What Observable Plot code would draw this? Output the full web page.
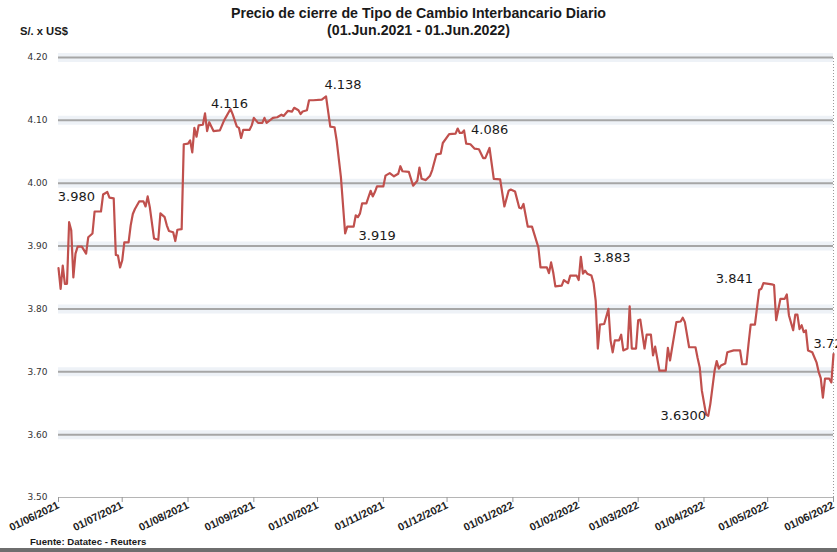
<!DOCTYPE html>
<html><head><meta charset="utf-8">
<script src="https://cdn.jsdelivr.net/npm/d3@7"></script>
<script src="https://cdn.jsdelivr.net/npm/@observablehq/plot@0.6"></script>
<style>
body{margin:0;background:#fff;}
#wrap{position:relative;width:837px;height:552px;overflow:hidden;background:#fff;}
#chart{position:absolute;left:0;top:0;}
.t{position:absolute;font-family:"Liberation Sans",Arial,sans-serif;font-weight:bold;color:#1a1a1a;white-space:nowrap;}
</style></head><body>
<div id="wrap">
<div id="chart"></div>
<div class="t" style="left:0;width:837px;text-align:center;top:5px;font-size:14.2px;line-height:17px;">Precio de cierre de Tipo de Cambio Interbancario Diario<br>(01.Jun.2021 - 01.Jun.2022)</div>
<div class="t" style="left:20px;top:24px;font-size:11.2px;line-height:14px;">S/. x US$</div>
<div class="t" style="left:30px;top:535px;font-size:9.6px;line-height:13px;">Fuente: Datatec - Reuters</div>
<div style="position:absolute;left:0;top:548px;width:837px;height:4px;background:#6e6e6e"></div>
</div>
<script>
// Daily interbank closing exchange rate (S/. per US$)
const dates = [
"2021-06-01","2021-06-02","2021-06-03","2021-06-04","2021-06-05","2021-06-06","2021-06-07","2021-06-08","2021-06-09","2021-06-10",
"2021-06-12","2021-06-14","2021-06-15","2021-06-17","2021-06-18","2021-06-21","2021-06-22","2021-06-24","2021-06-25","2021-06-27",
"2021-06-28","2021-06-29","2021-06-30","2021-07-01","2021-07-02","2021-07-04","2021-07-05","2021-07-06","2021-07-07","2021-07-09",
"2021-07-11","2021-07-12","2021-07-13","2021-07-14","2021-07-16","2021-07-18","2021-07-19","2021-07-21","2021-07-22","2021-07-23",
"2021-07-25","2021-07-26","2021-07-27","2021-07-29","2021-07-30","2021-08-01","2021-08-02","2021-08-03","2021-08-04","2021-08-05",
"2021-08-06","2021-08-08","2021-08-09","2021-08-10","2021-08-11","2021-08-13","2021-08-16","2021-08-18","2021-08-21","2021-08-22",
"2021-08-24","2021-08-25","2021-08-26","2021-08-27","2021-08-30","2021-08-31","2021-09-01","2021-09-03","2021-09-05","2021-09-06",
"2021-09-07","2021-09-10","2021-09-12","2021-09-14","2021-09-15","2021-09-17","2021-09-19","2021-09-20","2021-09-22","2021-09-23",
"2021-09-24","2021-09-26","2021-09-27","2021-09-29","2021-10-03","2021-10-05","2021-10-07","2021-10-09","2021-10-10","2021-10-12",
"2021-10-14","2021-10-15","2021-10-18","2021-10-19","2021-10-20","2021-10-21","2021-10-22","2021-10-24","2021-10-26","2021-10-27",
"2021-10-28","2021-10-29","2021-11-01","2021-11-02","2021-11-04","2021-11-06","2021-11-08","2021-11-09","2021-11-10","2021-11-13",
"2021-11-15","2021-11-17","2021-11-18","2021-11-19","2021-11-21","2021-11-23","2021-11-24","2021-11-26","2021-11-28","2021-11-29",
"2021-12-02","2021-12-05","2021-12-06","2021-12-07","2021-12-08","2021-12-09","2021-12-10","2021-12-12","2021-12-14","2021-12-16",
"2021-12-18","2021-12-19","2021-12-21","2021-12-23","2021-12-26","2021-12-28","2021-12-30","2021-12-31","2022-01-02","2022-01-04",
"2022-01-05","2022-01-06","2022-01-08","2022-01-10","2022-01-13","2022-01-14","2022-01-17","2022-01-18","2022-01-19","2022-01-20",
"2022-01-21","2022-01-24","2022-01-25","2022-01-27","2022-01-28","2022-01-31","2022-02-01","2022-02-02","2022-02-03","2022-02-04",
"2022-02-05","2022-02-07","2022-02-08","2022-02-09","2022-02-10","2022-02-11","2022-02-13","2022-02-15","2022-02-16","2022-02-17",
"2022-02-18","2022-02-20","2022-02-21","2022-02-22","2022-02-24","2022-02-25","2022-02-26","2022-02-28","2022-03-01","2022-03-02",
"2022-03-04","2022-03-05","2022-03-07","2022-03-08","2022-03-09","2022-03-11","2022-03-14","2022-03-15","2022-03-16","2022-03-19",
"2022-03-21","2022-03-22","2022-03-23","2022-03-25","2022-03-28","2022-03-29","2022-03-30","2022-03-31","2022-04-02","2022-04-03",
"2022-04-04","2022-04-06","2022-04-07","2022-04-08","2022-04-09","2022-04-11","2022-04-12","2022-04-15","2022-04-18","2022-04-19",
"2022-04-21","2022-04-22","2022-04-23","2022-04-25","2022-04-27","2022-04-28","2022-04-29","2022-05-03","2022-05-04","2022-05-05",
"2022-05-07","2022-05-09","2022-05-10","2022-05-11","2022-05-13","2022-05-14","2022-05-15","2022-05-16","2022-05-17","2022-05-18",
"2022-05-19","2022-05-20","2022-05-22","2022-05-24","2022-05-25","2022-05-26","2022-05-27","2022-05-28","2022-05-30","2022-05-31",
"2022-06-01"
];
const values = [
3.865,3.832,3.869,3.840,3.840,3.938,3.925,3.850,3.888,3.899,
3.899,3.888,3.914,3.920,3.955,3.955,3.982,3.986,3.977,3.976,
3.886,3.885,3.866,3.877,3.906,3.906,3.933,3.951,3.959,3.971,
3.971,3.963,3.979,3.962,3.912,3.910,3.952,3.946,3.933,3.924,
3.922,3.908,3.926,3.927,4.062,4.063,4.068,4.049,4.088,4.074,
4.092,4.093,4.111,4.083,4.097,4.083,4.084,4.100,4.118,4.110,
4.090,4.088,4.072,4.085,4.085,4.092,4.104,4.096,4.096,4.104,
4.096,4.104,4.105,4.109,4.107,4.115,4.114,4.120,4.116,4.110,
4.114,4.116,4.132,4.132,4.133,4.138,4.090,4.089,4.068,4.010,
3.920,3.931,3.931,3.949,3.946,3.952,3.968,3.968,3.988,3.979,
3.986,3.995,3.995,4.012,4.016,4.011,4.015,4.027,4.019,4.018,
3.996,4.004,4.025,4.007,4.005,4.012,4.021,4.046,4.047,4.064,
4.078,4.079,4.087,4.080,4.080,4.084,4.063,4.062,4.055,4.054,
4.040,4.040,4.056,4.007,4.006,3.963,3.988,3.990,3.987,3.961,
3.960,3.967,3.931,3.931,3.898,3.866,3.866,3.857,3.874,3.858,
3.836,3.837,3.846,3.841,3.853,3.853,3.846,3.883,3.856,3.861,
3.856,3.853,3.841,3.813,3.737,3.775,3.776,3.800,3.750,3.731,
3.750,3.750,3.759,3.734,3.737,3.804,3.737,3.737,3.782,3.783,
3.737,3.759,3.759,3.726,3.740,3.702,3.702,3.738,3.718,3.779,
3.780,3.786,3.779,3.739,3.739,3.722,3.707,3.670,3.632,3.630,
3.649,3.702,3.717,3.705,3.710,3.713,3.731,3.734,3.734,3.712,
3.712,3.745,3.775,3.775,3.830,3.832,3.841,3.839,3.838,3.782,
3.816,3.816,3.823,3.790,3.766,3.791,3.791,3.768,3.774,3.763,
3.766,3.734,3.731,3.715,3.700,3.690,3.659,3.689,3.689,3.683,
3.728
];
const xTicks = ["2021-06-01","2021-07-01","2021-08-01","2021-09-01","2021-10-01","2021-11-01","2021-12-01",
                "2022-01-01","2022-02-01","2022-03-01","2022-04-01","2022-05-01","2022-06-01"];
const yTicks = [3.5,3.6,3.7,3.8,3.9,4.0,4.1,4.2];
const annLabels = ["3.980","4.116","4.138","3.919","4.086","3.883","3.6300","3.841","3.728"];
const annDates  = ["2021-06-24","2021-08-21","2021-10-05","2021-10-14","2021-12-06","2022-02-02","2022-04-03","2022-04-29","2022-06-01"];
const annValues = [3.986,4.118,4.138,3.920,4.087,3.883,3.630,3.841,3.728];

const data = dates.map((d, i) => ({date: new Date(d), value: values[i]}));
const anns = annLabels.map((t, i) => ({text: t, date: new Date(annDates[i]), value: annValues[i]}));
// label offsets relative to the annotated point
const annOff = [[-31,5,"middle"],[-1,-5,"middle"],[17,-12,"middle"],[32,2,"middle"],[32,1,"middle"],
                [31,1,"middle"],[-25,0,"middle"],[-29,-4,"middle"],[-20,-10,"start"]];

const grid = yTicks.filter(v => v > 3.5);

const chart = Plot.plot({
  width: 837, height: 552,
  marginTop: 57, marginBottom: 55, marginLeft: 58, marginRight: 4,
  style: {background: "transparent", fontFamily: "DejaVu Sans, sans-serif"},
  x: {type: "utc", domain: [new Date(xTicks[0]), new Date(xTicks[xTicks.length - 1])]},
  y: {domain: [3.5, 4.2]},
  marks: [
    Plot.ruleY(grid, {stroke: "#eef2f7", strokeWidth: 9}),
    Plot.ruleY(grid, {stroke: "#a6a6a6", strokeWidth: 2}),
    Plot.ruleY([3.5], {stroke: "#b5b5b5", strokeWidth: 1}),
    Plot.ruleX([new Date(xTicks[xTicks.length - 1])], {y1: 3.5, y2: 4.2, stroke: "#999", strokeDasharray: "1,2"}),
    Plot.axisY({ticks: yTicks, tickFormat: d => d.toFixed(2), tickSize: 0, tickPadding: 11,
      fontSize: 9, fill: "#333", label: null}),
    Plot.axisX({ticks: xTicks.map(d => new Date(d)), tickFormat: d3.utcFormat("%d/%m/%Y"),
      tickRotate: -26, tickSize: 5, tickPadding: 2, stroke: "#999", fill: "#222",
      fontSize: 10.8, fontWeight: "bold", fontFamily: "Liberation Sans, Arial, sans-serif", label: null}),
    Plot.lineY(data, {x: "date", y: "value", stroke: "#c0504d", strokeWidth: 2.2, curve: "linear"}),
    ...anns.map((a, i) => Plot.text([a], {x: "date", y: "value", text: "text",
      dx: annOff[i][0], dy: annOff[i][1], textAnchor: annOff[i][2],
      fontSize: 13, fontFamily: "DejaVu Sans, sans-serif", fill: "#1a1a1a"}))
  ]
});
document.getElementById("chart").appendChild(chart);
</script>
</body></html>
